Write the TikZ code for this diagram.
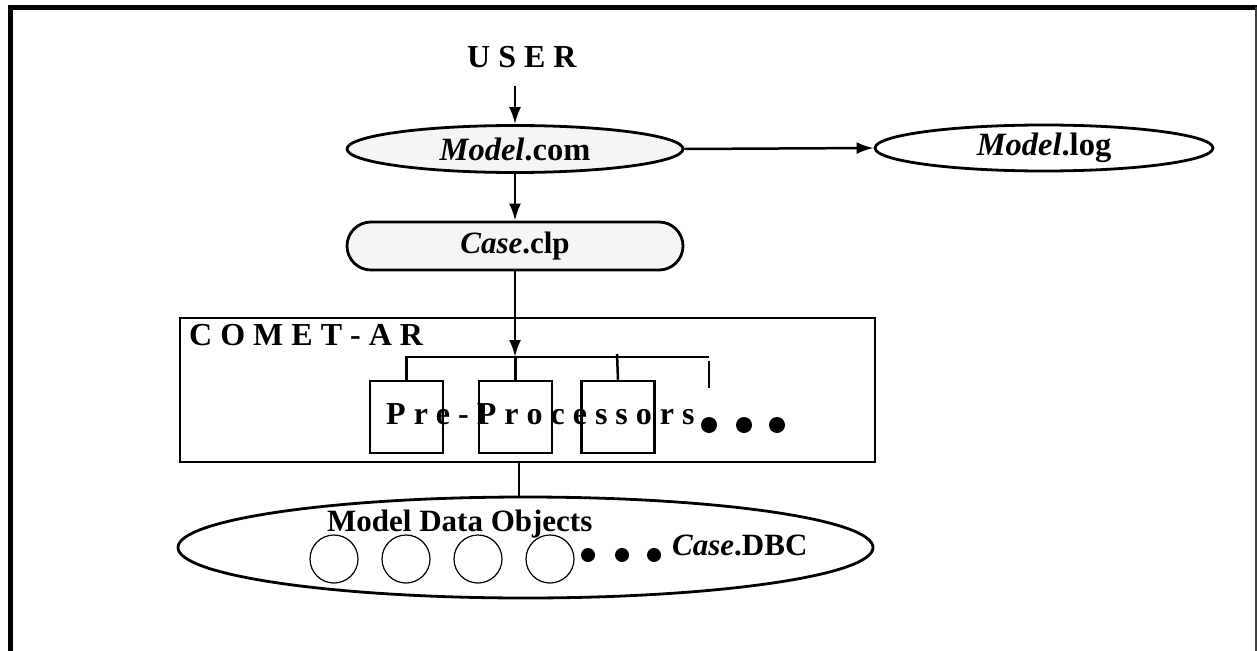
\documentclass[tikz,border=0pt]{standalone}
\usepackage{fontspec}
\setmainfont{Liberation Serif}
\usetikzlibrary{shapes.geometric,arrows.meta}
\definecolor{lightfill}{gray}{0.96}
\begin{document}
\begin{tikzpicture}[x=1pt,y=-1pt,
  lbl/.style={font=\fontsize{31}{36}\selectfont\bfseries, inner sep=0pt},
  lblbig/.style={font=\fontsize{32.5}{38}\selectfont\bfseries, inner sep=0pt},
  spaced/.style={font=\fontsize{32}{38}\selectfont\bfseries, inner sep=0pt},
  oval/.style={ellipse, draw, line width=2.8pt, inner sep=0pt},
  prebox/.style={draw, line width=2.5pt, minimum width=73pt, minimum height=72pt, inner sep=0pt},
  conn/.style={line width=2.5pt},
  arr/.style={conn, -{Latex[length=17pt,width=12pt]}},
  obj/.style={circle, draw, line width=1.2pt, minimum size=48pt, inner sep=0pt},
  bigdot/.style={circle, fill, minimum size=16pt, inner sep=0pt},
  smalldot/.style={circle, fill, minimum size=14pt, inner sep=0pt}]
\useasboundingbox (0,0) rectangle (1257,650);
% frame
\draw[line width=5pt] (10.5,660) -- (10.5,7.5) -- (1257,7.5);
\draw[line width=2pt, black!75] (1255.5,7.5) -- (1255.5,660);

% top part
\node[spaced, anchor=base west] (user) at (467,68) {U S E R};
\node[oval, fill=lightfill, minimum width=336pt, minimum height=47pt, lblbig] (mcom) at (515,149) {{\itshape Model}.com};
\node[oval, minimum width=338pt, minimum height=46pt, lblbig] (mlog) at (1044,148) {{\itshape Model}.log};
\node[draw, line width=2.8pt, fill=lightfill, rounded corners=24pt, minimum width=336pt, minimum height=48pt, lbl] (clp) at (515,246) {{\itshape Case}.clp};

\draw[arr] (user.south -| mcom.north) ++(0,17) -- (mcom.north);
\draw[arr] (mcom.east) -- (mlog.west);
\draw[arr] (mcom.south) -- (clp.north);

% COMET-AR box
\node[draw, line width=2.8pt, minimum width=695pt, minimum height=144pt, inner sep=0pt] (comet) at (527.5,390) {};
\node[spaced, anchor=base west] (cometlbl) at (189,345) {C O M E T - A R};
\node[prebox] (p1) at (406.5,417) {};
\node[prebox] (p2) at (515.5,417) {};
\node[prebox] (p3) at (618,417) {};
\coordinate (busR) at (709,357);
\coordinate (s3) at (617,354);
\coordinate (s4a) at (709,361);
\coordinate (s4b) at (709,388);
\draw[conn] (p1.north) |- (busR);
\draw[conn] (p2.north) -- (p2.north |- busR);
\draw[conn] (p3.north) -- (s3);
\draw[conn] (s4a) -- (s4b);
\draw[arr] (clp.south) -- (clp.south |- busR);
\node[spaced, anchor=base west] (pretxt) at (386,424) {P r e - P r o c e s s o r s};
\node[bigdot] (d1) at (709,425) {};
\node[bigdot] (d2) at (744,425) {};
\node[bigdot] (d3) at (777,425) {};

% DBC
\node[oval, minimum width=695pt, minimum height=101pt] (dbc) at (525.5,547.5) {};
\coordinate (midx) at (519,0);
\draw[conn] (comet.south -| midx) -- (midx |- dbc.north);
\node[lbl, anchor=base west] (mdo) at (327,531) {Model Data Objects};
\node[obj] (c1) at (334,559) {};
\node[obj] (c2) at (406,559) {};
\node[obj] (c3) at (478,559) {};
\node[obj] (c4) at (550,559) {};
\node[smalldot] (e1) at (588,555) {};
\node[smalldot] (e2) at (622,555) {};
\node[smalldot] (e3) at (654,555) {};
\node[lbl, anchor=base west] (dbctxt) at (672,555) {{\itshape Case}.DBC};
\end{tikzpicture}
\end{document}
